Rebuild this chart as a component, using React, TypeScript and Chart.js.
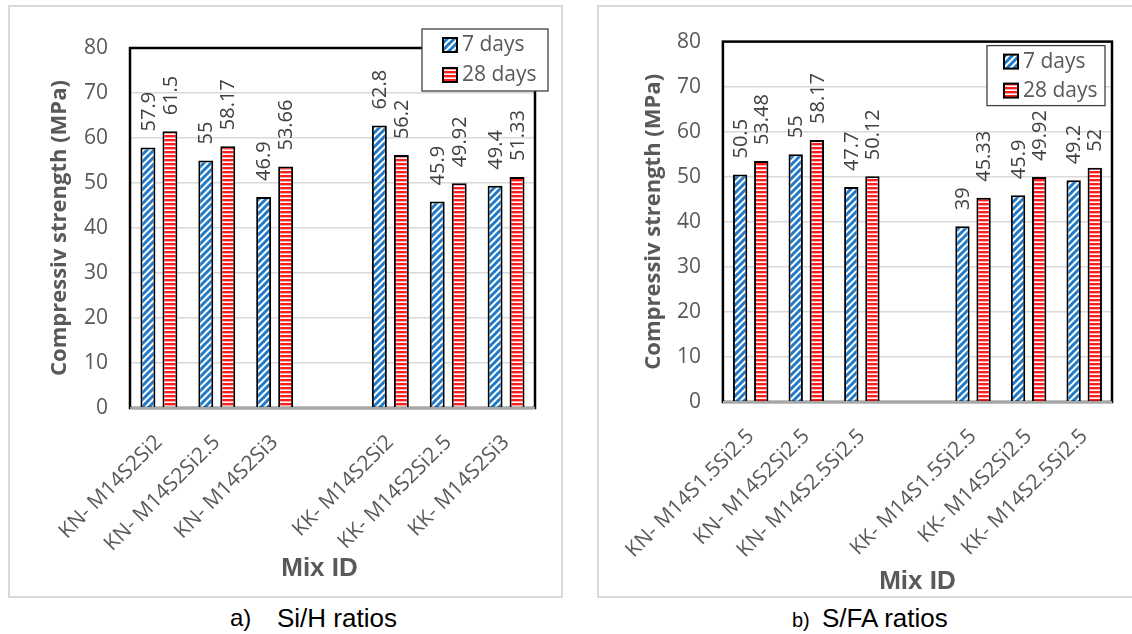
import React, { useEffect, useRef } from "react";
import { Chart, registerables } from "chart.js";

Chart.register(...registerables);

// ---------- data ----------
const CATEGORIES_A = [
  "KN- M14S2Si2",
  "KN- M14S2Si2.5",
  "KN- M14S2Si3",
  "",
  "KK- M14S2Si2",
  "KK- M14S2Si2.5",
  "KK- M14S2Si3",
];
const DAYS7_A = [57.9, 55, 46.9, null, 62.8, 45.9, 49.4];
const DAYS28_A = [61.5, 58.17, 53.66, null, 56.2, 49.92, 51.33];

const CATEGORIES_B = [
  "KN- M14S1.5Si2.5",
  "KN- M14S2Si2.5",
  "KN- M14S2.5Si2.5",
  "",
  "KK- M14S1.5Si2.5",
  "KK- M14S2Si2.5",
  "KK- M14S2.5Si2.5",
];
const DAYS7_B = [50.5, 55, 47.7, null, 39, 45.9, 49.2];
const DAYS28_B = [53.48, 58.17, 50.12, null, 45.33, 49.92, 52];

const SERIES_NAMES = ["7 days", "28 days"];
const Y_MIN = 0;
const Y_MAX = 80;
const Y_STEP = 10;
const Y_TITLE = "Compressiv strength (MPa)";
const X_TITLE = "Mix ID";

// ---------- styles ----------
const FONT = "'Open Sans', sans-serif";
const ARIAL = "'Liberation Sans', Arial, sans-serif";
const GRAY = "#595959";

function makeBluePattern(ctx: CanvasRenderingContext2D): CanvasPattern {
  const c = document.createElement("canvas");
  c.width = 7;
  c.height = 7;
  const g = c.getContext("2d")!;
  g.fillStyle = "#ffffff";
  g.fillRect(0, 0, 7, 7);
  g.strokeStyle = "#1f78c8";
  g.lineWidth = 3;
  for (const k of [-7, 0, 7]) {
    g.beginPath();
    g.moveTo(k - 1, 8);
    g.lineTo(k + 8, -1);
    g.stroke();
  }
  return ctx.createPattern(c, "repeat")!;
}

function makeRedPattern(ctx: CanvasRenderingContext2D): CanvasPattern {
  const c = document.createElement("canvas");
  c.width = 4;
  c.height = 4;
  const g = c.getContext("2d")!;
  g.fillStyle = "#ffffff";
  g.fillRect(0, 0, 4, 4);
  g.fillStyle = "#ff1c1c";
  g.fillRect(0, 0, 4, 2);
  g.fillStyle = "#ffa8a8";
  g.fillRect(0, 2, 4, 1);
  return ctx.createPattern(c, "repeat")!;
}

type PanelCfg = {
  w: number;
  h: number;
  padTop: number;
  padRight: number;
  yAxisWidth: number;
  xAxisHeight: number;
  categories: string[];
  d7: (number | null)[];
  d28: (number | null)[];
  legend: { dx: number; dy: number; w: number; h: number; sx: number; r1: number; r2: number };
  yTitleDx: number;
  xTitleDx: number;
  xTitleDy: number;
};

const overlayPlugin = {
  id: "overlay",
  afterDraw(chart: any, _args: any, opts: any) {
    const ctx: CanvasRenderingContext2D = chart.ctx;
    const { left, top, right, bottom } = chart.chartArea;
    ctx.save();
    // plot frame
    ctx.strokeStyle = "#000";
    ctx.lineWidth = 2.5;
    ctx.strokeRect(left, top, right - left, bottom - top);
    ctx.strokeStyle = "#a6a6a6";
    ctx.lineWidth = 2;
    ctx.beginPath();
    ctx.moveTo(left, bottom);
    ctx.lineTo(right, bottom);
    ctx.stroke();

    // data labels
    ctx.font = `20px ${FONT}`;
    ctx.fillStyle = "#404040";
    ctx.textAlign = "left";
    ctx.textBaseline = "middle";
    chart.data.datasets.forEach((ds: any, i: number) => {
      const meta = chart.getDatasetMeta(i);
      meta.data.forEach((el: any, j: number) => {
        const v = ds.data[j];
        if (v == null) return;
        ctx.save();
        ctx.translate(el.x + 1, el.y - 16);
        ctx.rotate(-Math.PI / 2);
        ctx.fillText(String(v), 0, 0);
        ctx.restore();
      });
    });

    // legend
    const L = opts.legend;
    const bx = right + L.dx - L.w;
    const by = top + L.dy;
    ctx.fillStyle = "#fff";
    ctx.fillRect(bx, by, L.w, L.h);
    ctx.strokeStyle = "#404040";
    ctx.lineWidth = 1.3;
    ctx.strokeRect(bx, by, L.w, L.h);
    const rows = [L.r1, L.r2];
    chart.data.datasets.forEach((ds: any, i: number) => {
      const cy = by + rows[i];
      ctx.fillStyle = ds.backgroundColor;
      ctx.fillRect(bx + L.sx, cy - 7, 14, 14);
      ctx.strokeStyle = "#000";
      ctx.lineWidth = 2;
      ctx.strokeRect(bx + L.sx, cy - 7, 14, 14);
      ctx.fillStyle = GRAY;
      ctx.font = `21px ${FONT}`;
      ctx.textAlign = "left";
      ctx.textBaseline = "middle";
      ctx.fillText(ds.label, bx + L.sx + 19, cy);
    });

    // axis titles
    ctx.fillStyle = GRAY;
    ctx.save();
    ctx.translate(left - opts.yTitleDx, (top + bottom) / 2);
    ctx.rotate(-Math.PI / 2);
    ctx.font = `bold 22px ${FONT}`;
    ctx.textAlign = "center";
    ctx.textBaseline = "middle";
    ctx.fillText(Y_TITLE, 0, 0);
    ctx.restore();

    ctx.font = `bold 26px ${ARIAL}`;
    ctx.textAlign = "center";
    ctx.textBaseline = "middle";
    ctx.fillText(X_TITLE, (left + right) / 2 + opts.xTitleDx, bottom + opts.xTitleDy);
    ctx.restore();
  },
};

function BarPanel({ cfg }: { cfg: PanelCfg }) {
  const ref = useRef<HTMLCanvasElement>(null);
  useEffect(() => {
    const canvas = ref.current!;
    const ctx = canvas.getContext("2d")!;
    const blue = makeBluePattern(ctx);
    const red = makeRedPattern(ctx);
    const chart = new Chart(canvas, {
      type: "bar",
      data: {
        labels: cfg.categories,
        datasets: [
          {
            label: SERIES_NAMES[0],
            data: cfg.d7,
            backgroundColor: blue as any,
            borderColor: "#000",
            borderWidth: 2,
            categoryPercentage: 0.76,
            barPercentage: 0.68,
          },
          {
            label: SERIES_NAMES[1],
            data: cfg.d28,
            backgroundColor: red as any,
            borderColor: "#000",
            borderWidth: 2,
            categoryPercentage: 0.76,
            barPercentage: 0.68,
          },
        ],
      },
      options: {
        animation: false,
        responsive: false,
        maintainAspectRatio: false,
        layout: { padding: { top: cfg.padTop, right: cfg.padRight, left: 0, bottom: 0 } },
        plugins: {
          legend: { display: false },
          tooltip: { enabled: false },
          overlay: {
            legend: cfg.legend,
            yTitleDx: cfg.yTitleDx,
            xTitleDx: cfg.xTitleDx,
            xTitleDy: cfg.xTitleDy,
          },
        } as any,
        scales: {
          x: {
            grid: { display: false, drawTicks: false },
            border: { display: false },
            ticks: {
              autoSkip: false,
              maxRotation: 45,
              minRotation: 45,
              padding: 22,
              color: GRAY,
              font: { family: FONT, size: 21 },
            },
            afterFit: (s: any) => {
              s.height = cfg.xAxisHeight;
            },
          },
          y: {
            min: Y_MIN,
            max: Y_MAX,
            grid: { color: "#d9d9d9", lineWidth: 1.5, drawTicks: false },
            border: { display: false },
            ticks: {
              stepSize: Y_STEP,
              padding: 22,
              color: GRAY,
              font: { family: FONT, size: 21 },
            },
            afterFit: (s: any) => {
              s.width = cfg.yAxisWidth;
            },
          },
        },
      },
      plugins: [overlayPlugin as any],
    });
    return () => chart.destroy();
  }, []);
  return (
    <canvas
      ref={ref}
      width={cfg.w}
      height={cfg.h}
      style={{ position: "absolute", left: 0, top: 0, width: cfg.w, height: cfg.h }}
    />
  );
}

const PANEL_A: PanelCfg = {
  w: 551,
  h: 589,
  padTop: 41,
  padRight: 26,
  yAxisWidth: 120,
  xAxisHeight: 188,
  categories: CATEGORIES_A,
  d7: DAYS7_A,
  d28: DAYS28_A,
  legend: { dx: 13, dy: -19, w: 126, h: 62, sx: 21, r1: 16, r2: 46 },
  yTitleDx: 70,
  xTitleDx: -13,
  xTitleDy: 161,
};

const PANEL_B: PanelCfg = {
  w: 533,
  h: 589,
  padTop: 33,
  padRight: 20,
  yAxisWidth: 121,
  xAxisHeight: 194,
  categories: CATEGORIES_B,
  d7: DAYS7_B,
  d28: DAYS28_B,
  legend: { dx: -7, dy: 4, w: 118, h: 60, sx: 17, r1: 16, r2: 45 },
  yTitleDx: 69,
  xTitleDx: 0,
  xTitleDy: 180,
};

export default function App() {
  return (
    <div
      style={{
        position: "absolute",
        left: 0,
        top: 0,
        width: 1132,
        height: 634,
        background: "#fff",
        overflow: "hidden",
      }}
    >
      <div
        style={{
          position: "absolute",
          left: 8,
          top: 5,
          width: 555,
          height: 593,
          boxSizing: "border-box",
          border: "2px solid #d9d9d9",
        }}
      >
        <BarPanel cfg={PANEL_A} />
      </div>
      <div
        style={{
          position: "absolute",
          left: 597,
          top: 5,
          width: 535,
          height: 593,
          boxSizing: "border-box",
          border: "2px solid #d9d9d9",
          borderRight: "none",
        }}
      >
        <BarPanel cfg={PANEL_B} />
      </div>
      <span style={{ position: "absolute", left: 230, top: 605, font: `24px/26px ${ARIAL}`, color: "#000" }}>a)</span>
      <span style={{ position: "absolute", left: 277, top: 605, font: `26px/26px ${ARIAL}`, color: "#000" }}>
        Si/H ratios
      </span>
      <span style={{ position: "absolute", left: 792, top: 607, font: `20px/26px ${ARIAL}`, color: "#000" }}>b)</span>
      <span style={{ position: "absolute", left: 822, top: 605, font: `26px/26px ${ARIAL}`, color: "#000" }}>
        S/FA ratios
      </span>
    </div>
  );
}
